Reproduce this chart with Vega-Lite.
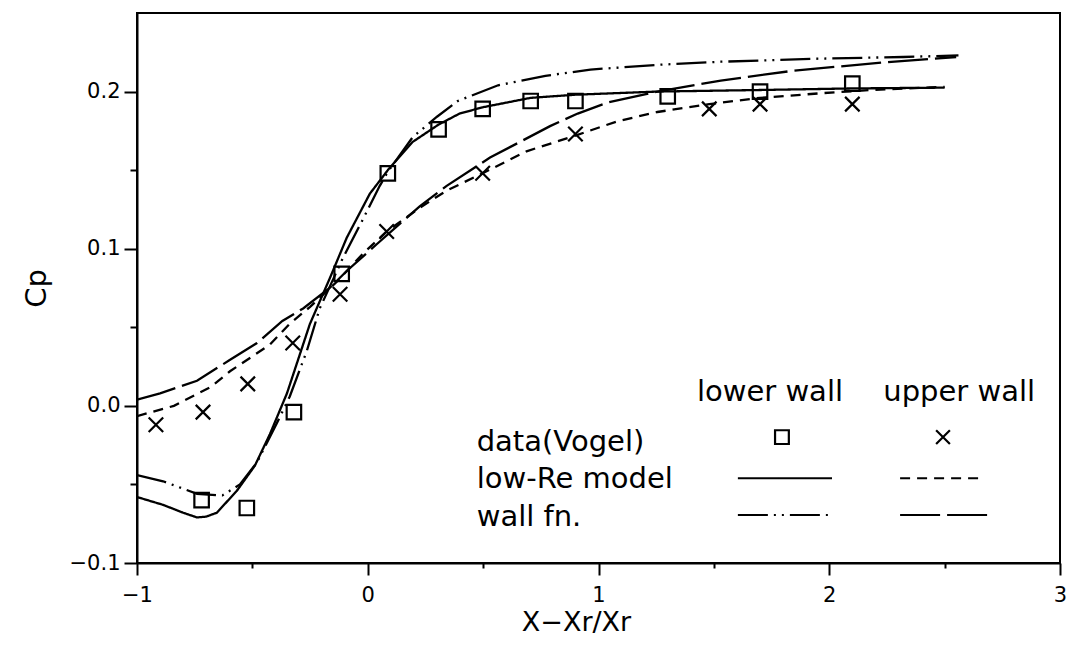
{
  "$schema": "https://vega.github.io/schema/vega-lite/v6.json",
  "width": 923,
  "height": 550,
  "autosize": "none",
  "padding": {"left": 137, "top": 13, "right": 10, "bottom": 84},
  "background": "white",
  "config": {
    "view": {"stroke": "black", "strokeWidth": 2},
    "axis": {
      "domainColor": "black", "domainWidth": 2, "tickColor": "black", "tickWidth": 2,
      "grid": false, "labelFont": "DejaVu Sans", "labelFontSize": 21, "labelColor": "black",
      "titleFont": "DejaVu Sans", "titleFontWeight": "normal", "titleColor": "black"
    },
    "text": {"font": "DejaVu Sans", "fontSize": 29, "color": "black"}
  },
  "datasets": {
    "curves": [
      {"s": "lowRe_lower", "x": -1.0, "y": -0.058},
      {"s": "lowRe_lower", "x": -0.887, "y": -0.063},
      {"s": "lowRe_lower", "x": -0.8, "y": -0.068},
      {"s": "lowRe_lower", "x": -0.74, "y": -0.071},
      {"s": "lowRe_lower", "x": -0.7, "y": -0.0705},
      {"s": "lowRe_lower", "x": -0.654, "y": -0.068},
      {"s": "lowRe_lower", "x": -0.567, "y": -0.054},
      {"s": "lowRe_lower", "x": -0.489, "y": -0.038},
      {"s": "lowRe_lower", "x": -0.424, "y": -0.018},
      {"s": "lowRe_lower", "x": -0.35, "y": 0.008},
      {"s": "lowRe_lower", "x": -0.251, "y": 0.052},
      {"s": "lowRe_lower", "x": -0.165, "y": 0.081},
      {"s": "lowRe_lower", "x": -0.091, "y": 0.107},
      {"s": "lowRe_lower", "x": 0.009, "y": 0.135},
      {"s": "lowRe_lower", "x": 0.087, "y": 0.15},
      {"s": "lowRe_lower", "x": 0.195, "y": 0.168},
      {"s": "lowRe_lower", "x": 0.307, "y": 0.179},
      {"s": "lowRe_lower", "x": 0.398, "y": 0.186},
      {"s": "lowRe_lower", "x": 0.498, "y": 0.19},
      {"s": "lowRe_lower", "x": 0.706, "y": 0.196},
      {"s": "lowRe_lower", "x": 0.9, "y": 0.198},
      {"s": "lowRe_lower", "x": 1.255, "y": 0.2},
      {"s": "lowRe_lower", "x": 1.7, "y": 0.201},
      {"s": "lowRe_lower", "x": 2.1, "y": 0.202},
      {"s": "lowRe_lower", "x": 2.5, "y": 0.2025},

      {"s": "lowRe_upper", "x": -1.0, "y": -0.0065},
      {"s": "lowRe_upper", "x": -0.84, "y": 0.0},
      {"s": "lowRe_upper", "x": -0.68, "y": 0.012},
      {"s": "lowRe_upper", "x": -0.597, "y": 0.022},
      {"s": "lowRe_upper", "x": -0.424, "y": 0.039},
      {"s": "lowRe_upper", "x": -0.34, "y": 0.052},
      {"s": "lowRe_upper", "x": -0.25, "y": 0.063},
      {"s": "lowRe_upper", "x": -0.134, "y": 0.079},
      {"s": "lowRe_upper", "x": -0.02, "y": 0.097},
      {"s": "lowRe_upper", "x": 0.082, "y": 0.111},
      {"s": "lowRe_upper", "x": 0.225, "y": 0.126},
      {"s": "lowRe_upper", "x": 0.342, "y": 0.137},
      {"s": "lowRe_upper", "x": 0.498, "y": 0.148},
      {"s": "lowRe_upper", "x": 0.688, "y": 0.162},
      {"s": "lowRe_upper", "x": 0.9, "y": 0.172},
      {"s": "lowRe_upper", "x": 1.08, "y": 0.181},
      {"s": "lowRe_upper", "x": 1.255, "y": 0.187},
      {"s": "lowRe_upper", "x": 1.48, "y": 0.192},
      {"s": "lowRe_upper", "x": 1.7, "y": 0.196},
      {"s": "lowRe_upper", "x": 1.97, "y": 0.199},
      {"s": "lowRe_upper", "x": 2.18, "y": 0.201},
      {"s": "lowRe_upper", "x": 2.5, "y": 0.203},

      {"s": "wall_lower", "x": -1.0, "y": -0.044},
      {"s": "wall_lower", "x": -0.887, "y": -0.048},
      {"s": "wall_lower", "x": -0.74, "y": -0.056},
      {"s": "wall_lower", "x": -0.63, "y": -0.057},
      {"s": "wall_lower", "x": -0.554, "y": -0.05},
      {"s": "wall_lower", "x": -0.48, "y": -0.036},
      {"s": "wall_lower", "x": -0.394, "y": -0.011},
      {"s": "wall_lower", "x": -0.338, "y": 0.006},
      {"s": "wall_lower", "x": -0.264, "y": 0.035},
      {"s": "wall_lower", "x": -0.208, "y": 0.062},
      {"s": "wall_lower", "x": -0.108, "y": 0.094},
      {"s": "wall_lower", "x": -0.02, "y": 0.119},
      {"s": "wall_lower", "x": 0.052, "y": 0.14},
      {"s": "wall_lower", "x": 0.087, "y": 0.149},
      {"s": "wall_lower", "x": 0.195, "y": 0.171},
      {"s": "wall_lower", "x": 0.3, "y": 0.184},
      {"s": "wall_lower", "x": 0.39, "y": 0.194},
      {"s": "wall_lower", "x": 0.565, "y": 0.204},
      {"s": "wall_lower", "x": 0.77, "y": 0.21},
      {"s": "wall_lower", "x": 0.965, "y": 0.214},
      {"s": "wall_lower", "x": 1.255, "y": 0.217},
      {"s": "wall_lower", "x": 1.53, "y": 0.219},
      {"s": "wall_lower", "x": 1.97, "y": 0.221},
      {"s": "wall_lower", "x": 2.32, "y": 0.222},
      {"s": "wall_lower", "x": 2.56, "y": 0.223},

      {"s": "wall_upper", "x": -1.0, "y": 0.004},
      {"s": "wall_upper", "x": -0.9, "y": 0.008},
      {"s": "wall_upper", "x": -0.74, "y": 0.016},
      {"s": "wall_upper", "x": -0.6, "y": 0.029},
      {"s": "wall_upper", "x": -0.48, "y": 0.04},
      {"s": "wall_upper", "x": -0.37, "y": 0.054},
      {"s": "wall_upper", "x": -0.28, "y": 0.062},
      {"s": "wall_upper", "x": -0.165, "y": 0.075},
      {"s": "wall_upper", "x": -0.09, "y": 0.086},
      {"s": "wall_upper", "x": 0.04, "y": 0.103},
      {"s": "wall_upper", "x": 0.225, "y": 0.127},
      {"s": "wall_upper", "x": 0.342, "y": 0.14},
      {"s": "wall_upper", "x": 0.53, "y": 0.158},
      {"s": "wall_upper", "x": 0.79, "y": 0.178},
      {"s": "wall_upper", "x": 0.91, "y": 0.186},
      {"s": "wall_upper", "x": 1.04, "y": 0.193},
      {"s": "wall_upper", "x": 1.255, "y": 0.2},
      {"s": "wall_upper", "x": 1.53, "y": 0.207},
      {"s": "wall_upper", "x": 1.83, "y": 0.213},
      {"s": "wall_upper", "x": 2.19, "y": 0.218},
      {"s": "wall_upper", "x": 2.55, "y": 0.222}
    ],
    "pts": [
      {"wall": "lower", "x": -0.72, "y": -0.06},
      {"wall": "lower", "x": -0.524, "y": -0.065},
      {"wall": "lower", "x": -0.32, "y": -0.004},
      {"wall": "lower", "x": -0.113, "y": 0.084},
      {"wall": "lower", "x": 0.087, "y": 0.148},
      {"wall": "lower", "x": 0.307, "y": 0.176},
      {"wall": "lower", "x": 0.498, "y": 0.189},
      {"wall": "lower", "x": 0.706, "y": 0.194},
      {"wall": "lower", "x": 0.9, "y": 0.194},
      {"wall": "lower", "x": 1.3, "y": 0.197},
      {"wall": "lower", "x": 1.7, "y": 0.2},
      {"wall": "lower", "x": 2.1, "y": 0.205},
      {"wall": "upper", "x": -0.918, "y": -0.012},
      {"wall": "upper", "x": -0.714, "y": -0.004},
      {"wall": "upper", "x": -0.52, "y": 0.014},
      {"wall": "upper", "x": -0.325, "y": 0.04},
      {"wall": "upper", "x": -0.12, "y": 0.071},
      {"wall": "upper", "x": 0.082, "y": 0.111},
      {"wall": "upper", "x": 0.498, "y": 0.148},
      {"wall": "upper", "x": 0.9, "y": 0.173},
      {"wall": "upper", "x": 1.48, "y": 0.189},
      {"wall": "upper", "x": 1.7, "y": 0.192},
      {"wall": "upper", "x": 2.1, "y": 0.192}
    ],
    "legtext": [
      {"t": "lower wall", "kind": "head", "x": 1.743, "y": 0.003},
      {"t": "upper wall", "kind": "head", "x": 2.563, "y": 0.003},
      {"t": "data(Vogel)", "kind": "row", "x": 0.472, "y": -0.0288},
      {"t": "low-Re model", "kind": "row", "x": 0.472, "y": -0.0524},
      {"t": "wall fn.", "kind": "row", "x": 0.472, "y": -0.0765}
    ],
    "legsym": [
      {"wall": "lower", "x": 1.795, "y": -0.0199},
      {"wall": "upper", "x": 2.493, "y": -0.0199}
    ],
    "legline": [
      {"s": "lowRe_lower", "x": 1.604, "x2": 2.012, "y": -0.046},
      {"s": "lowRe_upper", "x": 2.307, "x2": 2.675, "y": -0.046},
      {"s": "wall_lower", "x": 1.604, "x2": 2.012, "y": -0.0695},
      {"s": "wall_upper", "x": 2.307, "x2": 2.71, "y": -0.0695}
    ]
  },
  "encoding": {
    "x": {
      "field": "x", "type": "quantitative",
      "scale": {"domain": [-1, 3], "nice": false, "zero": false},
      "axis": {
        "title": "X−Xr/Xr", "titleFontSize": 27, "titlePadding": 4, "titleX": 439,
        "values": [-1, -0.5, 0, 0.5, 1, 1.5, 2, 2.5, 3],
        "tickSize": {"condition": {"test": "datum.value % 1 === 0", "value": 12}, "value": 5},
        "labelExpr": "datum.value % 1 === 0 ? format(datum.value, 'd') : ''",
        "labelPadding": 9, "labelFlush": false, "labelOverlap": false
      }
    },
    "y": {
      "field": "y", "type": "quantitative",
      "scale": {"domain": [-0.1, 0.25], "nice": false, "zero": false},
      "axis": {
        "title": "Cp", "titleFontSize": 29, "titlePadding": 18,
        "values": [-0.1, -0.05, 0, 0.05, 0.1, 0.15, 0.2],
        "tickSize": {"condition": {"test": "abs(datum.value*10 - round(datum.value*10)) < 0.001", "value": 13}, "value": 7},
        "labelExpr": "abs(datum.value*10 - round(datum.value*10)) < 0.001 ? format(datum.value, '.1f') : ''",
        "labelPadding": 4, "labelFlush": false, "labelOverlap": false
      }
    }
  },
  "layer": [
    {
      "data": {"name": "curves"},
      "mark": {"type": "line", "color": "black", "strokeWidth": 2.3, "clip": true},
      "encoding": {
        "strokeDash": {
          "field": "s", "type": "nominal", "legend": null,
          "scale": {"domain": ["lowRe_lower", "lowRe_upper", "wall_lower", "wall_upper"],
                    "range": [[1, 0], [10, 7], [30, 6, 2, 6, 2, 6], [40, 7]]}
        }
      }
    },
    {
      "data": {"name": "legline"},
      "mark": {"type": "rule", "color": "black", "strokeWidth": 2},
      "encoding": {
        "x2": {"field": "x2"},
        "strokeDash": {"field": "s", "type": "nominal", "legend": null}
      }
    },
    {
      "data": {"name": "pts"},
      "mark": {"type": "point", "filled": false, "color": "black", "strokeWidth": 2.2, "size": 210, "opacity": 1},
      "encoding": {
        "shape": {
          "field": "wall", "type": "nominal", "legend": null,
          "scale": {"domain": ["lower", "upper"], "range": ["square", "M-1,-1L1,1M1,-1L-1,1"]}
        }
      }
    },
    {
      "data": {"name": "legsym"},
      "mark": {"type": "point", "filled": false, "color": "black", "strokeWidth": 2.2, "size": 190, "opacity": 1},
      "encoding": {
        "shape": {"field": "wall", "type": "nominal", "legend": null}
      }
    },
    {
      "data": {"name": "legtext"},
      "transform": [{"filter": "datum.kind === 'head'"}],
      "mark": {"type": "text", "align": "center", "baseline": "alphabetic"},
      "encoding": {"text": {"field": "t"}}
    },
    {
      "data": {"name": "legtext"},
      "transform": [{"filter": "datum.kind === 'row'"}],
      "mark": {"type": "text", "align": "left", "baseline": "alphabetic"},
      "encoding": {"text": {"field": "t"}}
    }
  ]
}
